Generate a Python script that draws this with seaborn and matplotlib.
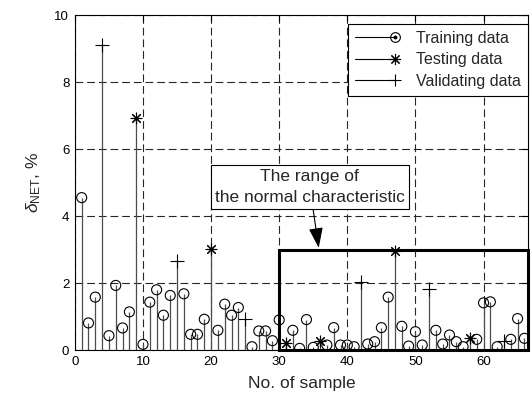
import matplotlib
matplotlib.use("Agg")
import matplotlib.pyplot as plt
from matplotlib.lines import Line2D
from matplotlib.patches import Rectangle
from matplotlib.legend_handler import HandlerBase
import seaborn as sns
import pandas as pd

# samples (x = sample number, y = delta_NET in %)
train_x = [1, 2, 3, 5, 6, 7, 8, 10, 11, 12, 13, 14, 16, 17, 18, 19, 21, 22, 23, 24,
           26, 27, 28, 29, 30, 32, 33, 34, 35, 37, 38, 39, 40, 41, 43, 44, 45, 46,
           48, 49, 50, 51, 53, 54, 55, 56, 57, 59, 60, 61, 62, 64, 65, 66]
train_y = [4.55, 0.81, 1.58, 0.43, 1.93, 0.66, 1.14, 0.17, 1.43, 1.80, 1.04, 1.63,
           1.68, 0.47, 0.47, 0.92, 0.59, 1.37, 1.04, 1.27, 0.10, 0.57, 0.57, 0.28,
           0.90, 0.59, 0.05, 0.91, 0.08, 0.15, 0.67, 0.15, 0.15, 0.10, 0.18, 0.25,
           0.67, 1.58, 0.71, 0.12, 0.55, 0.15, 0.59, 0.18, 0.45, 0.25, 0.10, 0.32,
           1.41, 1.44, 0.10, 0.32, 0.94, 0.35]
test_x = [9, 20, 31, 36, 47, 58]
test_y = [6.92, 3.02, 0.20, 0.28, 2.97, 0.35]
valid_x = [4, 15, 25, 42, 52, 63]
valid_y = [9.11, 2.65, 0.93, 2.02, 1.83, 0.28]

labels = ["Training data", "Testing data", "Validating data"]
box_text = "The range of\nthe normal characteristic"

sns.set_style("white")
plt.rcParams["font.family"] = ["Liberation Sans", "DejaVu Sans"]
plt.rcParams["mathtext.fontset"] = "custom"
plt.rcParams["mathtext.rm"] = "Liberation Sans"
plt.rcParams["mathtext.it"] = "Liberation Sans:italic"


class StemHandler(HandlerBase):
    # line with the marker sitting at its right end, as in a stem legend
    def create_artists(self, legend, orig_handle, xdescent, ydescent,
                       width, height, fontsize, trans):
        y = height / 2 - ydescent
        x1 = width - xdescent
        arts = [Line2D([-xdescent, x1], [y, y], color="black", lw=0.8)]
        arts.append(Line2D([x1], [y], ls="none", marker=orig_handle.get_marker(),
                           markersize=orig_handle.get_markersize(),
                           mfc="none", mec="black", mew=0.8))
        if orig_handle.get_marker() == "o":
            arts.append(Line2D([x1], [y], ls="none", marker="o", markersize=1.8,
                               mfc="black", mec="black"))
        for a in arts:
            a.set_transform(trans)
        return arts


train = pd.DataFrame({"x": train_x, "y": train_y})
test = pd.DataFrame({"x": test_x, "y": test_y})
valid = pd.DataFrame({"x": valid_x, "y": valid_y})

fig = plt.figure(figsize=(5.31, 3.96), dpi=100)
ax = fig.add_axes([0.141, 0.116, 0.853, 0.846])

stem_col = "0.3"
asterisk = (8, 2, 0)
for d in (train, test, valid):
    ax.vlines(d["x"], 0, d["y"], color=stem_col, lw=0.9, zorder=2)

sns.scatterplot(data=train, x="x", y="y", marker="o", s=52, facecolors="none",
                edgecolor="black", linewidth=0.8, ax=ax, zorder=3)
sns.scatterplot(data=test, x="x", y="y", marker=asterisk, s=60, color="black",
                linewidth=0.8, ax=ax, zorder=3)
sns.scatterplot(data=valid, x="x", y="y", marker="+", s=90, color="black",
                linewidth=0.8, ax=ax, zorder=3)

ax.set_xlim(0, 66.5)
ax.set_ylim(0, 10)
ax.set_xticks(range(0, 61, 10))
ax.set_yticks(range(0, 11, 2))
ax.grid(True, color="0.15", lw=0.8, linestyle=(0, (7, 3.5)))
ax.set_axisbelow(True)
ax.tick_params(direction="in", length=4, labelsize=9.5, top=True, right=True,
               colors="black", pad=4)
for sp in ax.spines.values():
    sp.set_color("black")
    sp.set_linewidth(0.8)

ax.set_xlabel("No. of sample", fontsize=12.5, labelpad=6)
ax.set_ylabel(r"$\delta_{\mathrm{NET}}$, %", fontsize=12.5, labelpad=8)

# normal-characteristic region
ax.add_patch(Rectangle((30, 0), 36.5, 3, fill=False, lw=2.2, edgecolor="black",
                       clip_on=False, zorder=4))
ax.annotate(box_text, xy=(35.8, 3.05), xytext=(34.5, 4.87), ha="center", va="center",
            fontsize=12.5, linespacing=1.45,
            bbox=dict(boxstyle="square,pad=0.25", fc="white", ec="black", lw=0.8),
            arrowprops=dict(arrowstyle="-|>,head_length=1.0,head_width=0.35",
                            color="black", lw=0.8, shrinkA=0, shrinkB=0), zorder=5)

handles = [Line2D([], [], marker="o", markersize=7),
           Line2D([], [], marker=asterisk, markersize=8),
           Line2D([], [], marker="+", markersize=9)]
leg = ax.legend(handles, labels, loc="upper right", bbox_to_anchor=(0.994, 0.94),
                bbox_transform=fig.transFigure, borderaxespad=0, fontsize=11.5,
                frameon=True, fancybox=False, edgecolor="black", framealpha=1,
                handlelength=2.5, handletextpad=1.3, borderpad=0.45, labelspacing=0.4,
                handler_map={Line2D: StemHandler()})
leg.get_frame().set_linewidth(0.8)
leg.set_zorder(6)

fig.savefig("out.png", dpi=100)
